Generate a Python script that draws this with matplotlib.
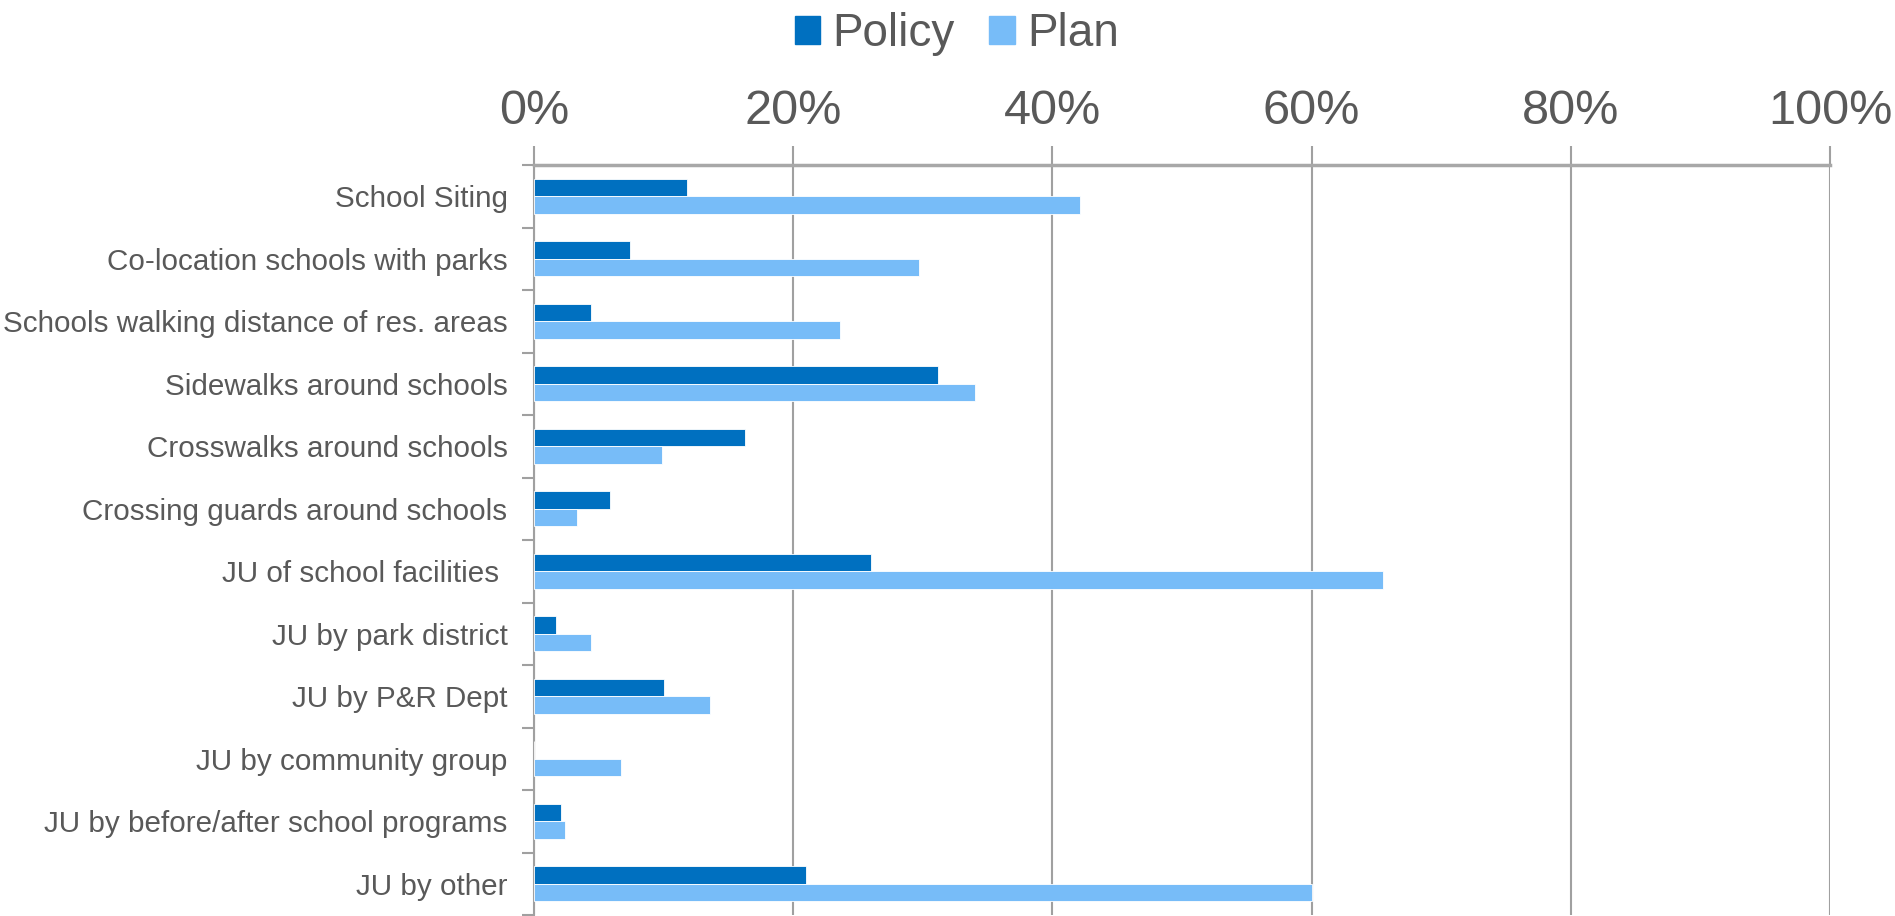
import matplotlib.pyplot as plt
import numpy as np
from matplotlib.patches import Patch
from matplotlib.ticker import FixedLocator, PercentFormatter

plt.rcParams["font.family"] = ["Liberation Sans", "DejaVu Sans"]

categories = [
    "School Siting",
    "Co-location schools with parks",
    "Schools walking distance of res. areas",
    "Sidewalks around schools",
    "Crosswalks around schools",
    "Crossing guards around schools",
    "JU of school facilities ",
    "JU by park district",
    "JU by P&R Dept",
    "JU by community group",
    "JU by before/after school programs",
    "JU by other",
]
policy = [11.8, 7.4, 4.4, 31.2, 16.3, 5.9, 26.0, 1.7, 10.0, 0.0, 2.1, 21.0]
plan = [42.1, 29.7, 23.6, 34.0, 9.9, 3.3, 65.5, 4.4, 13.6, 6.7, 2.4, 60.0]

POLICY_COLOR = "#0070C0"
PLAN_COLOR = "#77BCF8"
TEXT_COLOR = "#595959"
GRID_COLOR = "#A0A0A0"

fig = plt.figure(figsize=(18.95, 9.16), dpi=100)
ax = fig.add_axes([534 / 1895, 1 / 916, 1296 / 1895, 750 / 916])

y = np.arange(len(categories))
h = 0.283
ax.barh(y - h / 2, policy, height=h, color=POLICY_COLOR, edgecolor="white", linewidth=0.6, zorder=3)
ax.barh(y + h / 2, plan, height=h, color=PLAN_COLOR, edgecolor="white", linewidth=0.6, zorder=3)

ax.set_xlim(0, 100)
ax.set_ylim(len(categories) - 0.5, -0.5)

# value axis on top
ax.xaxis.set_ticks_position("top")
ax.xaxis.set_label_position("top")
ax.set_xticks(np.arange(0, 101, 20))
ax.xaxis.set_major_formatter(PercentFormatter(decimals=0))
ax.tick_params(axis="x", which="major", length=14, width=1.5, color=GRID_COLOR,
               labelsize=35, labelcolor=TEXT_COLOR, pad=8)
ax.grid(True, axis="x", color=GRID_COLOR, linewidth=1.5, zorder=0)

# category axis: labels at centers, tick marks at boundaries
ax.set_yticks(y)
ax.set_yticklabels(categories)
ax.yaxis.set_minor_locator(FixedLocator(np.arange(-0.5, len(categories), 1.0)))
ax.tick_params(axis="y", which="major", length=0, labelsize=21.3, labelcolor=TEXT_COLOR, pad=19)
ax.tick_params(axis="y", which="minor", length=9, width=1.5, color=GRID_COLOR)

for side in ("right", "bottom"):
    ax.spines[side].set_visible(False)
ax.spines["top"].set_color("#A8A8A8")
ax.spines["top"].set_linewidth(2.5)
ax.spines["left"].set_color(GRID_COLOR)
ax.spines["left"].set_linewidth(1.5)

handles = [Patch(color=POLICY_COLOR, label="Policy"), Patch(color=PLAN_COLOR, label="Plan")]
fig.legend(handles=handles, loc="upper center", bbox_to_anchor=(0.505, 1.032), ncol=2,
           frameon=False, fontsize=33, labelcolor=TEXT_COLOR,
           handlelength=0.55, handleheight=0.55, handletextpad=0.27, columnspacing=0.75)

fig.savefig("out.png", dpi=100)
